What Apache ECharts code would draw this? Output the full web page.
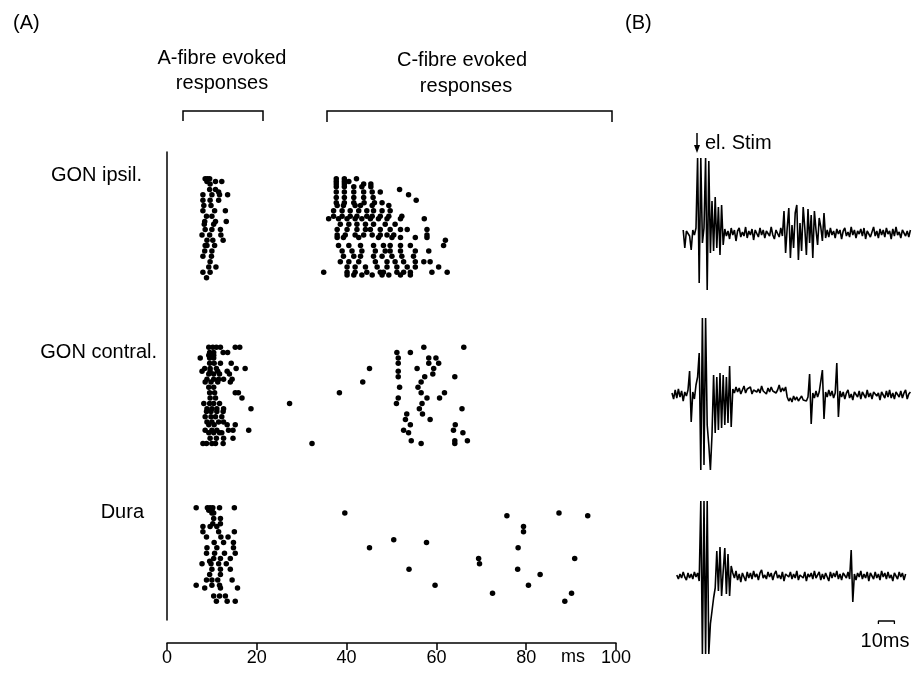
<!DOCTYPE html>
<html>
<head>
<meta charset="utf-8">
<script src="https://cdn.jsdelivr.net/npm/echarts@6/dist/echarts.min.js"></script>
<style>html,body{margin:0;padding:0;background:#fff}#c{width:913px;height:687px}</style>
</head>
<body>
<div id="c"></div>
<script>
// ---------- Panel A: raster data, rows = [trial, spike latencies in ms...] ----------
const xTicks = [0, 20, 40, 60, 80, 100];
const groupNames = ['GON ipsil.', 'GON contral.', 'Dura'];
const groupTrialOffset = [9, 72, 132];

const ipsilA = [
  [1, 8.5, 9.0, 9.5], [2, 8.9, 10.8, 12.2], [3, 9.6], [5, 9.5, 10.8], [6, 11.5],
  [7, 8.0, 10.0, 11.7, 13.5], [9, 8.0, 9.6, 11.5], [11, 8.2, 9.8], [13, 8.0, 10.6, 13.0],
  [15, 8.8, 10.0], [17, 8.4, 10.8, 13.2], [18, 8.3, 10.4], [20, 8.5, 10.0, 11.9],
  [22, 7.8, 9.5, 12.0], [24, 8.9, 10.2, 12.5], [26, 8.5, 8.9, 10.6], [28, 8.4, 10.0],
  [30, 8.0, 9.9], [32, 9.6], [34, 9.3, 10.9], [36, 8.0, 9.6], [38, 8.8]
];
const ipsilC = [
  [1, 37.7, 39.5, 42.2], [2, 37.7, 39.5, 40.5], [3, 37.7, 39.5, 43.8, 45.4],
  [4, 37.7, 39.5, 41.6, 43.4, 45.4], [5, 51.8], [6, 37.7, 39.5, 41.6, 43.8, 45.7, 47.5],
  [7, 53.8], [8, 37.7, 39.5, 41.6, 43.8, 45.9], [9, 55.5],
  [10, 37.7, 39.5, 41.6, 43.9, 46.2, 47.9], [11, 37.9, 39.3, 41.9, 43.1, 45.7, 49.4],
  [13, 37.1, 39.0, 40.8, 42.7, 44.5, 46.0, 47.9, 49.7],
  [15, 37.1, 39.0, 40.8, 42.3, 44.5, 45.7, 47.5, 49.4, 52.3],
  [16, 36.0, 38.2, 40.1, 41.9, 43.4, 45.3, 47.1, 49.0, 52.0, 57.3],
  [18, 38.6, 40.5, 42.3, 44.2, 46.0, 48.6, 50.8],
  [20, 37.9, 40.1, 42.3, 44.2, 45.3, 47.5, 49.7, 52.0, 53.5, 57.9],
  [22, 37.9, 39.7, 41.9, 43.8, 45.7, 47.5, 49.0, 50.5, 57.9],
  [23, 37.9, 39.3, 42.7, 47.1, 50.1, 52.0, 55.3, 57.9], [24, 62.0],
  [26, 38.2, 40.5, 43.1, 46.0, 48.2, 49.7, 52.0, 54.2, 61.6],
  [28, 39.0, 41.2, 43.4, 46.4, 48.6, 49.7, 52.0, 55.3, 58.3],
  [30, 39.3, 41.6, 43.1, 46.0, 47.9, 50.1, 52.3, 54.9],
  [32, 38.6, 40.5, 42.7, 46.4, 49.0, 50.8, 52.7, 55.3, 57.2, 58.6],
  [34, 40.1, 41.9, 44.2, 46.8, 49.0, 51.2, 53.5, 55.3, 60.5],
  [36, 34.9, 40.1, 41.9, 44.5, 47.5, 48.2, 51.2, 52.7, 54.2, 59.0, 62.4],
  [37, 40.1, 41.6, 43.4, 45.7, 47.9, 49.4, 52.0, 54.2]
];
const contralA = [
  [1, 9.3, 10.2, 11.0, 11.9, 15.2, 16.2], [3, 9.5, 10.4, 12.5, 13.5], [4, 9.3, 10.4],
  [5, 7.4, 9.5, 10.4], [7, 9.5, 10.5, 11.9, 14.3], [9, 8.4, 9.6, 11.0, 15.4, 17.4],
  [10, 7.8, 9.6, 11.3, 13.4], [11, 9.3, 10.4, 11.7, 13.9], [13, 8.9, 10.4, 11.5, 12.6, 14.5],
  [14, 8.5, 9.8, 11.3, 14.1], [16, 9.3, 10.4], [18, 9.5, 10.6, 15.2, 15.9],
  [20, 9.6, 10.8, 16.7], [22, 8.2, 9.5, 10.4, 11.7], [24, 8.9, 10.0, 11.1, 12.6, 18.7],
  [25, 8.8, 9.8, 11.1, 12.5], [27, 8.5, 9.8, 10.8, 12.2], [29, 8.9, 10.0, 11.5, 12.6],
  [30, 9.3, 10.5, 13.4, 15.2], [32, 8.5, 10.0, 11.1, 13.7, 14.7, 18.2],
  [33, 9.3, 10.4, 11.7, 12.2], [35, 9.6, 11.0, 12.6, 14.7], [37, 8.0, 8.8, 10.0, 10.8, 12.5]
];
const contralC = [
  [1, 57.2, 66.1], [3, 51.2, 54.2], [5, 51.5, 58.3, 59.9], [7, 51.5, 58.3, 60.5],
  [9, 45.1, 55.7, 59.4], [10, 51.5], [11, 59.2], [12, 51.5, 57.4, 64.1], [14, 43.6, 56.6],
  [16, 51.8, 55.9], [18, 38.4, 56.6, 61.8], [20, 51.5, 57.9, 60.7], [22, 27.3, 51.1, 56.8],
  [24, 56.2, 65.7], [26, 53.4, 56.9], [28, 53.1, 58.6], [30, 54.2, 64.2], [32, 52.7, 63.8],
  [33, 53.8, 65.9], [36, 54.4, 64.1, 66.9], [37, 32.3, 56.6, 64.1]
];
const duraA = [
  [1, 6.5, 9.0, 9.6, 10.2, 11.7, 15.0], [2, 9.3, 10.0], [3, 10.0, 10.4], [5, 10.4, 11.9],
  [7, 10.2, 11.9], [8, 8.0, 9.6, 11.1], [10, 8.0, 11.5, 15.0], [12, 8.8, 12.0, 13.6],
  [14, 10.5, 12.6, 14.8], [16, 8.9, 11.1, 14.8], [18, 8.8, 10.6, 12.8, 15.2],
  [20, 10.4, 11.9, 14.1], [21, 9.5], [22, 7.8, 9.8, 11.5, 13.2], [24, 10.0, 11.9, 14.1],
  [26, 9.5, 11.9], [28, 8.8, 10.0, 11.3, 14.5], [30, 6.5, 10.0, 11.7], [31, 8.4, 11.9, 15.7],
  [34, 10.4, 11.7, 13.0], [36, 11.0, 13.4, 15.2]
];
const duraC = [
  [3, 39.6, 87.3], [4, 75.7, 93.7], [8, 79.4], [10, 79.4], [13, 50.5], [14, 57.8],
  [16, 45.1, 78.2], [20, 69.4, 90.8], [22, 69.6], [24, 53.9, 78.1], [26, 83.1],
  [30, 59.7, 80.5], [33, 72.5, 90.1], [36, 88.6]
];

// ---------- Panel B: example recordings (1 ms samples, amplitude in a.u.) ----------
const sampleStepMs = 1;
const ipsilTraceStart = -9;
const ipsilTrace = [
  3, -15, 2, 4, -3, -17, 3, -2,
  5, 75, -50, 75, -10, 5, 75, -57, 72, -20, 32, -18, 36, -15, 26, -22, 28, -12,
  4, -3, 2, -6, 5, -2, 3, -8, 2, 5, -4, 1, -3, 6, -5, 2, -2, 4, -7, 3, 1, -4, 5, -2, 3, -5, 2, 4, -3, 6, -2, -6, 3, 1, -4, 5, -3,
  22, -20, 5, 25, -25, 8, -15, 20, 28, -27, 10, -18, 26, 5, -22, 24, -10, 18, -25, 22, 3, -12, 15, 6, -8, 20, -5,
  3, -4, 5, -2, 2, -5, 4, -1, 3, -6, 2, 5, -3, 1, -4, 6, -2, 3, -5, 2, -1, 4, -3, 5, -6, 2, 3, -4, 1, 6, -3, 2, -5, 4, -2, 3, -4, 5, -1, 2, -6, 4, -3, 6, -2, 1, -5, 3, 4, -3, 2, -4, 3
];
const contralTraceStart = -16;
const contralTrace = [
  2, -4, 5, -3, 6, -2, 4, -6, 3, -1, 5,
  24, -27,
  3, -4, 10, 18,
  42, -75, 77, -70, 77, -30, -50, -75, -40,
  20, -38, 18, -35, 22, -33, 20, -30, 18, -28,
  29, -32,
  6, 2, 8, 3, 7, 1, 5, 9, 2, 6, 4, 8, 1, 5, 7, 3, 6, 2, 9, 4, 5, 1, 7, 3, 8, 4, 6, 2, 5, 10, 3, 7, 4, 8,
  -2, -6, -3, -7, -1, -5, -2, -6, -4, -1, -5, -3, -6, -2,
  21, -29,
  2, -3, 4, -2, 3, 1,
  25, -24,
  3, -2, 5, -1, 4, -3, 2,
  32, -22,
  4, -2, 3, -4, 2, 5, -3, 1, -5, 3, 2, -2, 4, -4, 3, 1, -3, 5, -2, 2, -4, 3, 4, -1, 2, -5, 3, 1, -3, 4, -2, 5, -3, 2, -4, 3, 1, -2, 4, -3, 2, 5, -4, 1, 3
];
const duraTraceStart = -13;
const duraTrace = [
  1, -3, 2, -2, 4, -1, -4, 3, -2, 2, -3, 4, -1, 3, -5,
  75, -78, 75, -78, 75,
  -78, -48, -35, -22, -12,
  25, -15, 29, -20, 5, 28, -18, 22, -20, 10,
  3, -2, 5, -4, 2, -6, 3, 1, -5, 4, -2, 3, -3, 5, -1, 2, -4, 3, 6, -2, 1, -3, 4, -1, 3, -4, 2, 5, -2, 1, -3, 4, -5, 2, 3, -1, 4, -3, 2, -2, 5, -4, 1, 3, -2, 4, -5, 2, -1, 3, -3, 5, -2, 1, 4, -4, 2, -3, 3, 1, -5, 4, -2, 3, -1, 5, -3, 2, -4, 3, 1, -2, 4, -3,
  26, -26,
  2, -4, 3, -1, 5, -3, 2, -2, 4, -5, 3, 1, -3, 4, -2, 2, -4, 5, -1, 3, -3, 4, -2, 1, -5, 3, 2, -3, 4, -1, 3, -4, 2
];
const scaleBarStartMs = 113;
const scaleBarLengthMs = 10;
const scaleBarLevel = -45;

// ---------- build ----------
const FONT = '"Liberation Sans", Arial, Helvetica, sans-serif';
function rasterPoints(rows, offset) {
  const out = [];
  rows.forEach(r => { for (let i = 1; i < r.length; i++) out.push([r[i], offset + r[0]]); });
  return out;
}
function traceSeries(vals, start) {
  return vals.map((v, i) => [start + i * sampleStepMs, v]);
}
const rasterData = [].concat(
  rasterPoints(ipsilA, groupTrialOffset[0]), rasterPoints(ipsilC, groupTrialOffset[0]),
  rasterPoints(contralA, groupTrialOffset[1]), rasterPoints(contralC, groupTrialOffset[1]),
  rasterPoints(duraA, groupTrialOffset[2]), rasterPoints(duraC, groupTrialOffset[2])
);

const chart = echarts.init(document.getElementById('c'), null, {renderer: 'canvas'});
const traceX = (i) => ({gridIndex: i, type: 'value', min: -16, max: 134, show: false});
const traceY = (i) => ({gridIndex: i, type: 'value', min: -100, max: 100, show: false});
const lineStyle = {color: '#000', width: 1.6};

function txt(x, y, text, size, align) {
  return {type: 'text', x: x, y: y, style: {text: text, fill: '#000', font: size + 'px ' + FONT, textAlign: align || 'center', textVerticalAlign: 'middle'}};
}

chart.setOption({
  animation: false,
  backgroundColor: '#fff',
  grid: [
    {left: 167, top: 152, width: 449, height: 468},
    {left: 672, top: 133, width: 240, height: 200},
    {left: 672, top: 295, width: 240, height: 200},
    {left: 672, top: 476, width: 240, height: 200}
  ],
  xAxis: [
    {gridIndex: 0, type: 'value', position: 'bottom', min: xTicks[0], max: xTicks[xTicks.length - 1], interval: 20, offset: 23,
     axisLine: {show: true, onZero: false, lineStyle: {color: '#000', width: 1.5}},
     axisTick: {show: true, length: 7, lineStyle: {color: '#000', width: 1.5}},
     axisLabel: {color: '#000', fontSize: 18, fontFamily: FONT, margin: 6},
     splitLine: {show: false}},
    traceX(1), traceX(2), traceX(3)
  ],
  yAxis: [
    {gridIndex: 0, type: 'value', min: 0, max: 175, inverse: true,
     axisLine: {show: true, onZero: false, lineStyle: {color: '#000', width: 1.5}},
     axisTick: {show: false}, axisLabel: {show: false}, splitLine: {show: false}},
    traceY(1), traceY(2), traceY(3)
  ],
  series: [
    {type: 'scatter', xAxisIndex: 0, yAxisIndex: 0, data: rasterData, symbol: 'circle', symbolSize: 5.5,
     itemStyle: {color: '#000', opacity: 1}, silent: true},
    {type: 'line', xAxisIndex: 1, yAxisIndex: 1, data: traceSeries(ipsilTrace, ipsilTraceStart), showSymbol: false, lineStyle: lineStyle, clip: false},
    {type: 'line', xAxisIndex: 2, yAxisIndex: 2, data: traceSeries(contralTrace, contralTraceStart), showSymbol: false, lineStyle: lineStyle, clip: false},
    {type: 'line', xAxisIndex: 3, yAxisIndex: 3, data: traceSeries(duraTrace, duraTraceStart), showSymbol: false, lineStyle: lineStyle, clip: false},
    {type: 'line', xAxisIndex: 3, yAxisIndex: 3, showSymbol: false, lineStyle: {color: '#000', width: 1.3},
     data: [[scaleBarStartMs, scaleBarLevel - 3], [scaleBarStartMs, scaleBarLevel],
            [scaleBarStartMs + scaleBarLengthMs, scaleBarLevel], [scaleBarStartMs + scaleBarLengthMs, scaleBarLevel - 3]]}
  ],
  graphic: [
    txt(13, 23, '(A)', 20, 'left'),
    txt(625, 23, '(B)', 20, 'left'),
    txt(222, 58, 'A-fibre evoked', 20),
    txt(222, 83, 'responses', 20),
    txt(462, 60, 'C-fibre evoked', 20),
    txt(466, 86, 'responses', 20),
    {type: 'polyline', shape: {points: [[183, 121], [183, 111], [263, 111], [263, 121]]}, style: {stroke: '#000', lineWidth: 1.5, fill: null}},
    {type: 'polyline', shape: {points: [[327, 122], [327, 111], [612, 111], [612, 122]]}, style: {stroke: '#000', lineWidth: 1.5, fill: null}},
    txt(142, 175, groupNames[0], 20, 'right'),
    txt(157, 352, groupNames[1], 20, 'right'),
    txt(144, 512, groupNames[2], 20, 'right'),
    txt(573, 657, 'ms', 18),
    {type: 'line', shape: {x1: 697, y1: 133, x2: 697, y2: 147}, style: {stroke: '#000', lineWidth: 1.5}},
    {type: 'polygon', shape: {points: [[694, 145], [700, 145], [697, 153]]}, style: {fill: '#000'}},
    txt(705, 143, 'el. Stim', 20, 'left'),
    txt(885, 641, '10ms', 20)
  ]
});
</script>
</body>
</html>
